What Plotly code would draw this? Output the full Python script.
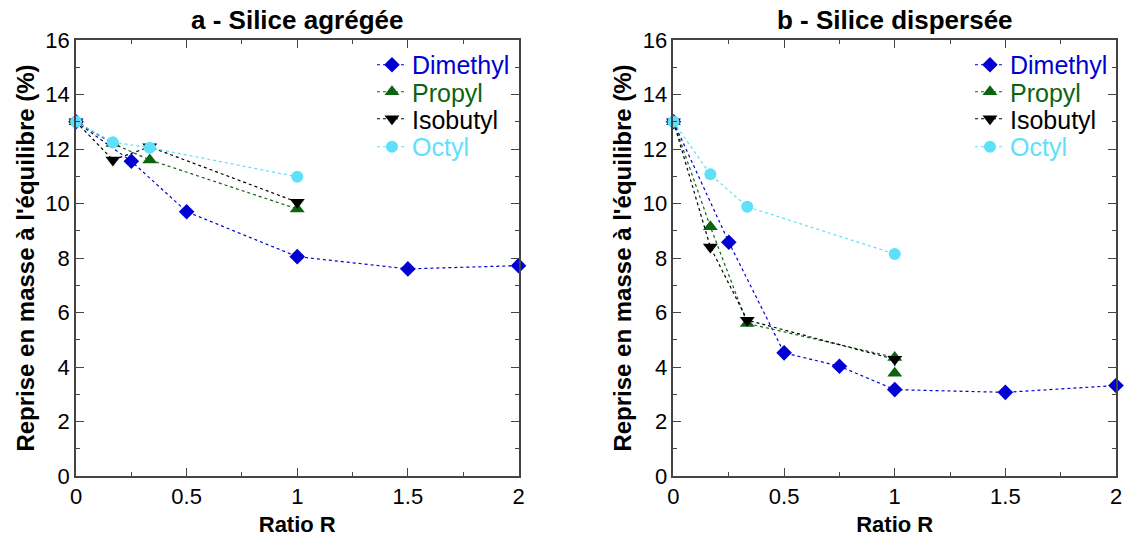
import plotly.graph_objects as go
from plotly.subplots import make_subplots

# ---- data: panel a (Silice agrégée)
a_dim_x = [0, 0.25, 0.5, 1, 1.5, 2]
a_dim_y = [13.0, 11.55, 9.7, 8.05, 7.6, 7.72]
a_pro_x = [0, 1/6, 1/3, 1]
a_pro_y = [13.0, 12.2, 11.6, 9.8]
a_iso_x = [0, 1/6, 1/3, 1]
a_iso_y = [13.0, 11.6, 12.08, 10.05]
a_oct_x = [0, 1/6, 1/3, 1]
a_oct_y = [13.0, 12.25, 12.05, 10.98]

# ---- data: panel b (Silice dispersée)
b_dim_x = [0, 0.25, 0.5, 0.75, 1, 1.5, 2]
b_dim_y = [13.0, 8.58, 4.52, 4.03, 3.17, 3.07, 3.32]
b_pro_x = [0, 1/6, 1/3, 1, 1]
b_pro_y = [13.0, 9.15, 5.6, 4.35, 3.77]
b_iso_x = [0, 1/6, 1/3, 1]
b_iso_y = [13.0, 8.4, 5.72, 4.28]
b_oct_x = [0, 1/6, 1/3, 1]
b_oct_y = [13.0, 11.07, 9.88, 8.15]

series_names = ["Dimethyl", "Propyl", "Isobutyl", "Octyl"]
series_colors = ["#0000d2", "#0d6410", "#000000", "#5fe0fa"]
series_symbols = ["diamond", "triangle-up", "triangle-down", "circle"]
series_sizes = [12, 13, 13, 12]

panel_a = [(a_dim_x, a_dim_y), (a_pro_x, a_pro_y), (a_iso_x, a_iso_y), (a_oct_x, a_oct_y)]
panel_b = [(b_dim_x, b_dim_y), (b_pro_x, b_pro_y), (b_iso_x, b_iso_y), (b_oct_x, b_oct_y)]

FONT = "Liberation Sans, Arial, sans-serif"
fig = make_subplots(rows=1, cols=2, horizontal_spacing=0.149,
                    subplot_titles=("<b>a - Silice agrégée</b>", "<b>b - Silice dispersée</b>"))

leg_rows_y = [0.9427, 0.8807, 0.8188, 0.7546]
leg_x = {1: 0.2846, 2: 0.8596}
legends = {}
n = 0
for col, data in [(1, panel_a), (2, panel_b)]:
    for i, (xs, ys) in enumerate(data):
        n += 1
        key = "legend" if n == 1 else f"legend{n}"
        color = series_colors[i]
        fig.add_trace(go.Scatter(
            x=xs, y=ys, mode="lines+markers",
            name=f"<span style='color:{color}'>{series_names[i]}</span>",
            line=dict(color=color, width=1.2, dash="dot"),
            marker=dict(symbol=series_symbols[i], size=series_sizes[i], color=color),
            legend=key, showlegend=True, cliponaxis=False,
        ), row=1, col=col)
        legends[key] = dict(x=leg_x[col], y=leg_rows_y[i], xanchor="left", yanchor="middle",
                            font=dict(size=25, family=FONT), bgcolor="rgba(0,0,0,0)",
                            itemsizing="trace")

axcol = "#444444"
for col in (1, 2):
    fig.update_xaxes(range=[0, 2], dtick=0.5, showline=True, mirror="allticks",
                     linecolor=axcol, linewidth=1.5, ticks="inside", ticklen=8,
                     tickcolor=axcol, showgrid=False, zeroline=False, automargin=False,
                     minor=dict(ticks="inside", ticklen=4, dtick=0.25, tickcolor=axcol),
                     title=dict(text="<b>Ratio R</b>", font=dict(size=22), standoff=8),
                     tickfont=dict(size=22), row=1, col=col)
    fig.update_yaxes(range=[0, 16], dtick=2, showline=True, mirror="allticks",
                     linecolor=axcol, linewidth=1.5, ticks="inside", ticklen=8,
                     tickcolor=axcol, showgrid=False, zeroline=False, automargin=False,
                     minor=dict(ticks="inside", ticklen=4, dtick=1, tickcolor=axcol),
                     title=dict(text="<b>Reprise en masse à l'équilibre (%)</b>",
                                font=dict(size=24), standoff=4),
                     tickfont=dict(size=22), row=1, col=col)

for ann in fig.layout.annotations:
    ann.font = dict(size=26, family=FONT, color="black")
    ann.yshift = 3

fig.update_layout(
    width=1127, height=542,
    margin=dict(l=76, r=11, t=40, b=66, autoexpand=False),
    plot_bgcolor="white", paper_bgcolor="white",
    font=dict(family=FONT, color="black", size=22),
    showlegend=True,
    **legends,
)
fig.write_html("out.html", config={"displayModeBar": False},
               post_script="document.body.style.margin='0';")
